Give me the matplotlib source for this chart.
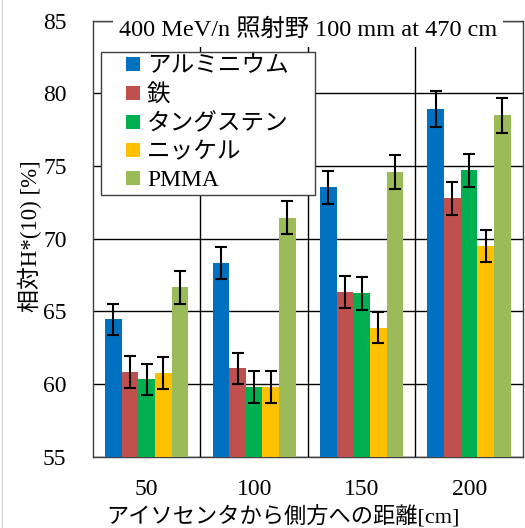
import numpy as np
import matplotlib
matplotlib.use("Agg")
import matplotlib.pyplot as plt
from matplotlib.lines import Line2D
from matplotlib.patches import Rectangle
from matplotlib.container import BarContainer
from matplotlib.legend_handler import HandlerPatch, update_from_first_child

plt.rcParams['font.family'] = ['Liberation Serif', 'Noto Sans CJK JP', 'DejaVu Sans']

# data
distances = ['50', '100', '150', '200']
materials = ['アルミニウム', '鉄', 'タングステン', 'ニッケル', 'PMMA']
colors = ['#0070C0', '#C0504D', '#00B050', '#FFC000', '#9BBB59']

aluminium = [64.46, 68.34, 73.53, 78.92]
iron = [60.84, 61.07, 66.34, 72.77]
tungsten = [60.31, 59.80, 66.23, 74.70]
nickel = [60.73, 59.80, 63.87, 69.51]
pmma = [66.64, 71.43, 74.60, 78.48]

aluminium_err = [1.07, 1.09, 1.14, 1.23]
iron_err = [1.10, 1.08, 1.11, 1.15]
tungsten_err = [1.05, 1.10, 1.12, 1.15]
nickel_err = [1.10, 1.10, 1.09, 1.09]
pmma_err = [1.12, 1.12, 1.18, 1.19]

values = [aluminium, iron, tungsten, nickel, pmma]
errors = [aluminium_err, iron_err, tungsten_err, nickel_err, pmma_err]


# square legend key drawn at the right end of the handle box
def square_key(legend, orig_handle, xdescent, ydescent, width, height, fontsize):
    s = height
    return Rectangle((width - s - xdescent, -ydescent), s, s)


fig = plt.figure(figsize=(5.25, 5.28), dpi=100)
ax = fig.add_axes([0.177, 0.1354, 0.819, 0.8256])

x = np.arange(len(distances))
w = 0.155
for k in range(len(materials)):
    ax.bar(x + (k - 2) * w, values[k], width=w, color=colors[k], label=materials[k],
           zorder=3)
    ax.errorbar(x + (k - 2) * w, values[k], yerr=errors[k], fmt='none', ecolor='black',
                elinewidth=1.5, capsize=4.3, capthick=1.5, zorder=4)

ax.set_xlim(-0.5, 3.5)
ax.set_ylim(55, 85)
ax.set_yticks(np.arange(55, 86, 5))
ax.set_xticks(x)
ax.set_xticklabels(distances)
ax.set_xticks(x[:-1] + 0.5, minor=True)
ax.tick_params(axis='both', which='both', length=0, labelsize=17)
ax.tick_params(axis='y', pad=19)
ax.tick_params(axis='x', pad=16)
ax.yaxis.grid(True, color='black', linewidth=1.0, zorder=0)
ax.xaxis.grid(True, which='minor', color='black', linewidth=1.0, zorder=0)
ax.xaxis.grid(False, which='major')
for s in ax.spines.values():
    s.set_color('#404040')
    s.set_linewidth(1.0)

leg = ax.legend(loc='upper left', bbox_to_anchor=(0.018, 0.598, 0.498, 0.329),
                mode='expand', fontsize=17,
                frameon=True, fancybox=False, edgecolor='#404040', framealpha=1,
                handlelength=1.5, handleheight=0.55, handletextpad=0.3,
                labelspacing=0.3, borderpad=0.16, borderaxespad=0,
                handler_map={BarContainer: HandlerPatch(patch_func=square_key,
                                                        update_func=update_from_first_child)})
leg.get_frame().set_linewidth(1.0)
leg.set_zorder(5)

ax.text(0.5, 0.978, '400 MeV/n 照射野 100 mm at 470 cm', transform=ax.transAxes,
        ha='center', va='center', fontsize=17.5,
        bbox=dict(facecolor='white', edgecolor='none', pad=4), zorder=6)

fig.text(0.057, 0.552, '相対H*(10) [%]', rotation=90, ha='center', va='center',
         fontsize=16.5)
fig.text(0.539, 0.021, 'アイソセンタから側方への距離[cm]', ha='center', va='center',
         fontsize=16)

fig.add_artist(Line2D([0.004, 0.004], [0, 1], transform=fig.transFigure,
                      color='#d9d9d9', linewidth=1))

fig.savefig('out.png', dpi=100)
